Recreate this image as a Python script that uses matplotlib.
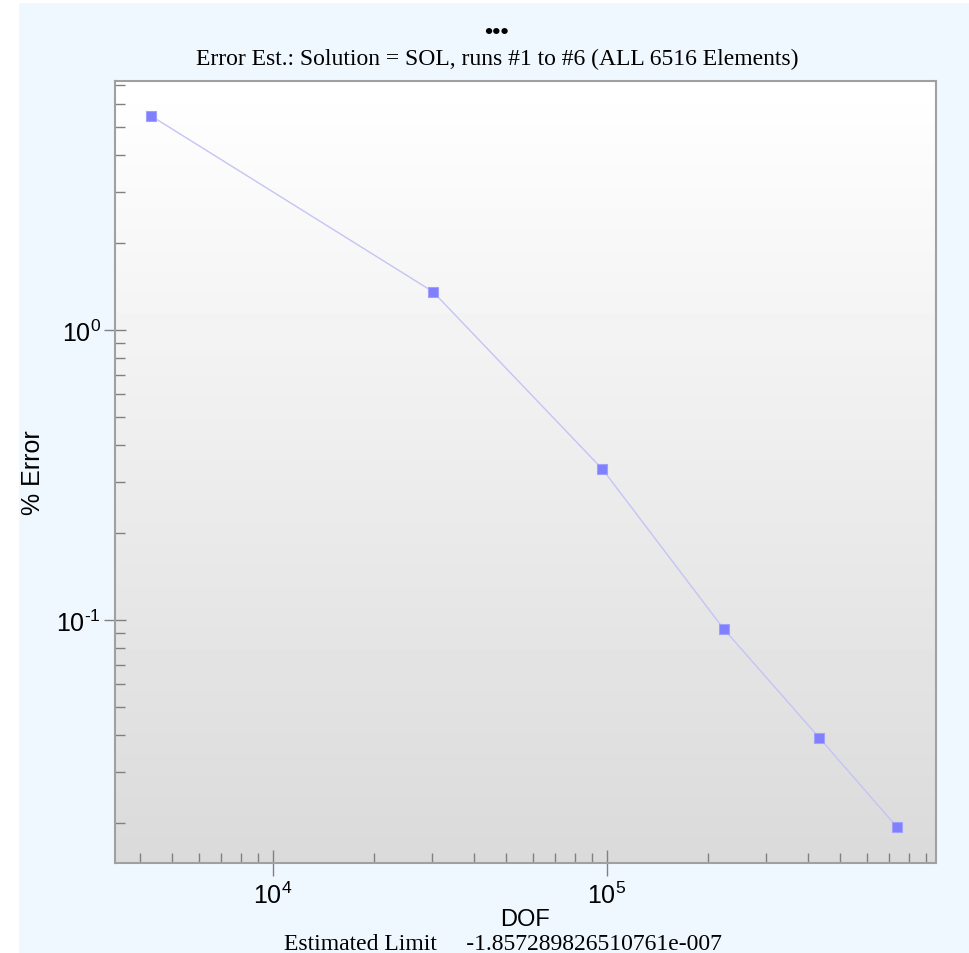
import numpy as np
from matplotlib import pyplot as plt
from matplotlib.patches import Rectangle
from matplotlib.ticker import LogLocator, NullFormatter, FuncFormatter

# data
dof = [4308, 30120, 96940, 223600, 431600, 738500]
pct_error = [5.48, 1.355, 0.331, 0.0931, 0.0393, 0.0193]

title = "Error Est.: Solution = SOL, runs #1 to #6 (ALL 6516 Elements)"
limit_text = "Estimated Limit     -1.857289826510761e-007"

plt.rcParams['font.family'] = ['Liberation Sans', 'DejaVu Sans']
plt.rcParams['mathtext.fontset'] = 'custom'
plt.rcParams['mathtext.rm'] = 'Liberation Sans'
plt.rcParams['mathtext.it'] = 'Liberation Sans'
plt.rcParams['mathtext.default'] = 'rm'

W, H = 970, 954
fig = plt.figure(figsize=(W / 100, H / 100), dpi=100, facecolor='white')

# light blue panel behind everything
fig.patches.append(Rectangle((19 / W, 0), 1 - 19 / W, 1 - 4 / H,
                             transform=fig.transFigure, facecolor='#F0F8FF',
                             edgecolor='none', zorder=-10))

ax = fig.add_axes([115 / W, 1 - 864 / H, (936 - 115) / W, (864 - 82) / H])
ax.set_xscale('log')
ax.set_yscale('log')

# vertical gradient white -> grey
grad = np.linspace(1.0, 0.855, 256).reshape(-1, 1)
ax.imshow(grad, cmap='gray', vmin=0, vmax=1, extent=[0, 1, 0, 1],
          transform=ax.transAxes, aspect='auto', zorder=0, interpolation='bilinear')

ax.plot(dof, pct_error, '-', color='#C4C4F6', lw=1.0, zorder=2)
ax.plot(dof, pct_error, 's', color='#8080FF', markersize=6.5,
        markeredgecolor='#A0A0FF', markeredgewidth=0.8, zorder=3)

ax.set_xlim(3365, 9.66e5)
ax.set_ylim(0.01452, 7.22)

for s in ax.spines.values():
    s.set_color('#A0A0A0')
    s.set_linewidth(1.5)


def pow10(v, pos):
    e = int(round(np.log10(v)))
    return r'$10^{\text{%d}}$' % e


ax.xaxis.set_major_locator(LogLocator(base=10))
ax.xaxis.set_minor_locator(LogLocator(base=10, subs=np.arange(2, 10)))
ax.yaxis.set_major_locator(LogLocator(base=10))
ax.yaxis.set_minor_locator(LogLocator(base=10, subs=np.arange(2, 10)))
ax.xaxis.set_major_formatter(FuncFormatter(pow10))
ax.yaxis.set_major_formatter(FuncFormatter(pow10))
ax.xaxis.set_minor_formatter(NullFormatter())
ax.yaxis.set_minor_formatter(NullFormatter())

ax.tick_params(which='major', direction='inout', length=16, width=1,
               color='#808080', labelsize=18, pad=2)
ax.tick_params(axis='x', which='major', length=19, pad=4)
ax.tick_params(which='minor', direction='in', length=7, width=1, color='#808080')
ax.tick_params(top=False, right=False, which='both')

ax.set_xlabel("DOF", fontsize=17, labelpad=0)
ax.set_ylabel("% Error", fontsize=18, labelpad=8)

fig.text(497 / W, 1 - 33 / H, "•••", ha='center', va='center', fontsize=17,
         fontweight='bold', family=['Liberation Serif', 'DejaVu Sans'])
fig.text(497 / W, 1 - 59 / H, title, ha='center', va='center', fontsize=17,
         family=['Liberation Serif', 'DejaVu Serif'])
fig.text(503 / W, 1 - 945 / H, limit_text, ha='center', va='center', fontsize=17,
         family=['Liberation Serif', 'DejaVu Serif'])

fig.savefig('out.png', dpi=100)
